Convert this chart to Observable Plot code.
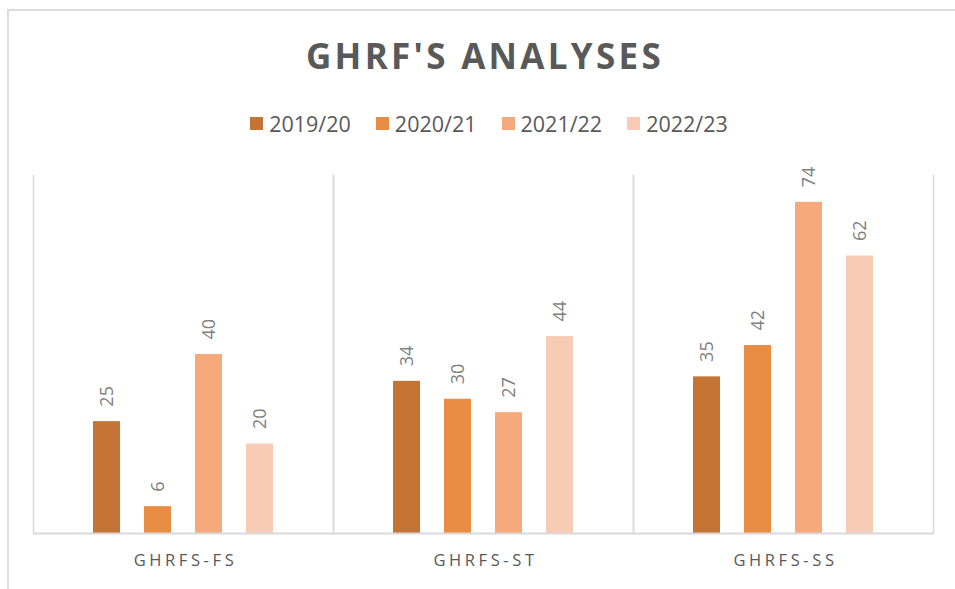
<!DOCTYPE html>
<html>
<head>
<meta charset="utf-8">
<script src="https://cdn.jsdelivr.net/npm/d3@7"></script>
<script src="https://cdn.jsdelivr.net/npm/@observablehq/plot@0.6"></script>
<style>
  html, body { margin: 0; padding: 0; background: #fff; }
  body { width: 955px; height: 589px; position: relative; overflow: hidden; font-family: "Open Sans", sans-serif; }
  #border { position: absolute; left: 7px; top: 9px; width: 1200px; height: 900px; border-left: 2px solid #dcdcdc; border-top: 2px solid #dcdcdc; }
  #title { position: absolute; left: 0; width: 970px; top: 38px; text-align: center; font-size: 35px; line-height: 35px; font-weight: 700; letter-spacing: 3.3px; color: #595959; }
  #legend { position: absolute; left: 0; width: 978px; top: 113px; display: flex; justify-content: center; align-items: center; font-size: 21.5px; line-height: 21.5px; color: #595959; }
  .item { display: flex; align-items: center; margin: 0 12.5px; }
  .sw { width: 13px; height: 13px; margin-right: 6px; }
  #chart { position: absolute; left: 0; top: 160px; }
  #chart svg { overflow: visible; }
  g[aria-label="fx-axis tick label"] text { letter-spacing: 3.6px; }
</style>
</head>
<body>
<div id="border"></div>
<div id="title">GHRF'S ANALYSES</div>
<div id="legend"></div>
<div id="chart"></div>
<script>
const groups = ["GHRFS-FS", "GHRFS-ST", "GHRFS-SS"];
const years = ["2019/20", "2020/21", "2021/22", "2022/23"];
const valuesFS = [25, 6, 40, 20];
const valuesST = [34, 30, 27, 44];
const valuesSS = [35, 42, 74, 62];
const colors = ["#C47535", "#E88D43", "#F6AA7B", "#F8CBB4"];

const series = [valuesFS, valuesST, valuesSS];
const data = [];
groups.forEach((g, gi) => years.forEach((y, yi) => data.push({group: g, year: y, value: series[gi][yi]})));

// Legend
const legend = document.getElementById("legend");
years.forEach((y, i) => {
  const item = document.createElement("div");
  item.className = "item";
  const sw = document.createElement("div");
  sw.className = "sw";
  sw.style.background = colors[i];
  const t = document.createElement("span");
  t.textContent = y;
  item.appendChild(sw);
  item.appendChild(t);
  legend.appendChild(item);
});

const chart = Plot.plot({
  width: 955,
  height: 429,
  marginTop: 15,
  marginBottom: 56,
  marginLeft: 32,
  marginRight: 22,
  style: {fontFamily: "Open Sans, sans-serif", background: "transparent"},
  fx: {domain: groups, padding: 0, axis: null},
  x: {domain: years, axis: null, paddingInner: 0.47, paddingOuter: 1.175},
  y: {domain: [0, 80], axis: null},
  color: {domain: years, range: colors},
  marks: [
    Plot.frame({anchor: "left", stroke: "#d9d9d9", strokeWidth: 1.5}),
    Plot.frame({anchor: "right", stroke: "#d9d9d9", strokeWidth: 1.5}),
    Plot.barY(data, {fx: "group", x: "year", y: "value", fill: "year"}),
    Plot.ruleY([0], {stroke: "#d9d9d9", strokeWidth: 2}),
    Plot.text(data, {fx: "group", x: "year", y: "value", text: d => String(d.value), rotate: -90, textAnchor: "start", dy: -15, fill: "#7f7f7f", fontSize: 18}),
    Plot.axisFx({anchor: "bottom", tickSize: 0, tickPadding: 21, fontSize: 16.5, fill: "#595959", label: null, dx: 2})
  ]
});
document.getElementById("chart").appendChild(chart);
</script>
</body>
</html>
